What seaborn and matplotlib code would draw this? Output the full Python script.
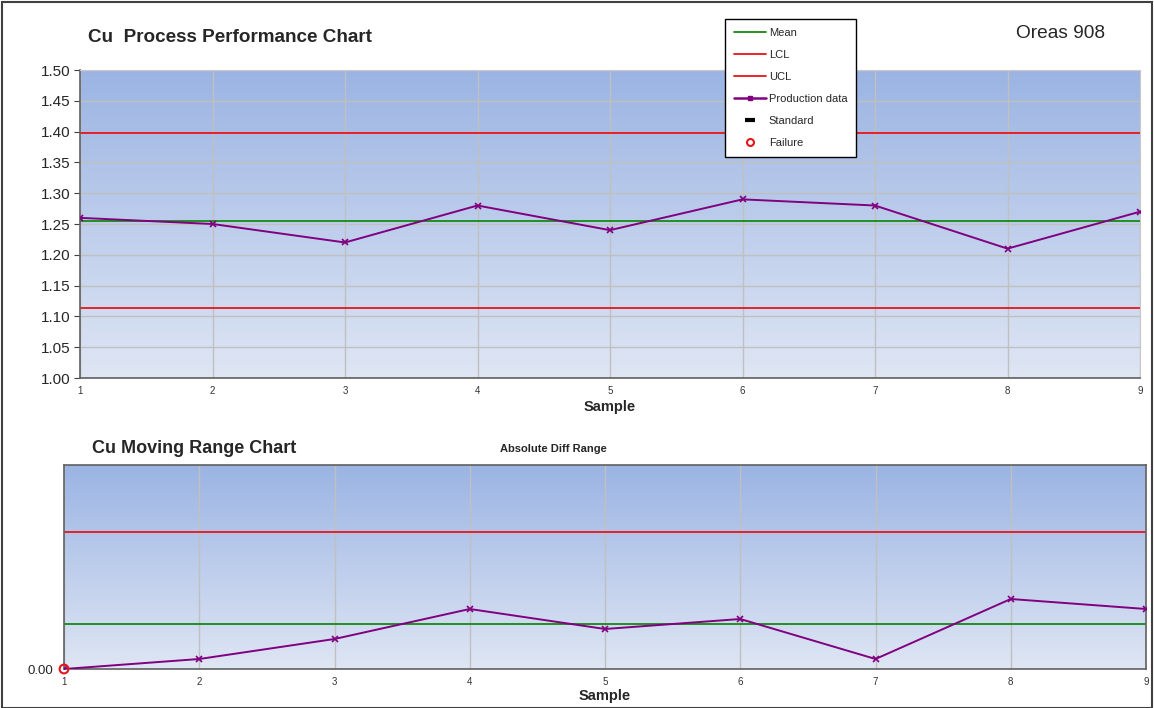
import numpy as np
import pandas as pd
import seaborn as sns
import matplotlib.pyplot as plt
from matplotlib.lines import Line2D
from matplotlib.patches import Rectangle
from matplotlib.colors import LinearSegmentedColormap

# dane
samples = [1, 2, 3, 4, 5, 6, 7, 8, 9]
production = [1.26, 1.25, 1.22, 1.28, 1.24, 1.29, 1.28, 1.21, 1.27]
mean_val = 1.2556
lcl_val = 1.1136
ucl_val = 1.3977
yticks_top = [1.00, 1.05, 1.10, 1.15, 1.20, 1.25, 1.30, 1.35, 1.40, 1.45, 1.50]

moving_range = [0.00, 0.01, 0.03, 0.06, 0.04, 0.05, 0.01, 0.07, 0.06]
mr_mean = 0.045
mr_ucl = 0.137
failure_x = [1]
failure_y = [0.00]

df_top = pd.DataFrame({"Sample": samples, "Value": production})
df_mr = pd.DataFrame({"Sample": samples, "Range": moving_range})

sns.set_style("white")
plt.rcParams['font.family'] = ['Liberation Sans', 'DejaVu Sans']

W, H = 1154, 708
fig = plt.figure(figsize=(W / 100, H / 100), dpi=100)

def px_axes(left, top, right, bottom):
    return fig.add_axes([left / W, 1 - bottom / H, (right - left) / W, (bottom - top) / H])

def gradient(ax):
    # ciemniejszy niebieski u góry, jasny u dołu
    grad = np.linspace(0, 1, 256).reshape(-1, 1)
    cmap = LinearSegmentedColormap.from_list("bg", ["#9bb4e3", "#dfe6f4"])
    ax.imshow(grad, aspect="auto", cmap=cmap, extent=[0, 1, 0, 1], origin="upper",
              transform=ax.transAxes, zorder=0, interpolation="bicubic")

purple = "#800080"
green = "#138a13"
red = "#e8141b"

# --- wykres górny ---
ax1 = px_axes(80, 70, 1140, 378)
gradient(ax1)
for x in samples:
    ax1.axvline(x, color="#c0c0c0", lw=1, zorder=1)
for y in yticks_top:
    ax1.axhline(y, color="#c0c0c0", lw=1, zorder=1)
ax1.axhline(mean_val, color=green, lw=1.3, zorder=2)
ax1.axhline(lcl_val, color=red, lw=1.3, zorder=2)
ax1.axhline(ucl_val, color=red, lw=1.3, zorder=2)
sns.lineplot(data=df_top, x="Sample", y="Value", ax=ax1, color=purple, lw=1.4,
             marker="x", markersize=4, markeredgewidth=1.2, markeredgecolor=purple, zorder=3)
ax1.set_xlim(1, 9)
ax1.set_ylim(1.0, 1.5)
ax1.set_yticks(yticks_top)
ax1.set_yticklabels([f"{v:.2f}" for v in yticks_top], fontsize=11)
ax1.set_xticks(samples)
ax1.set_xticklabels([str(s) for s in samples], fontsize=7, color="#333333")
ax1.set_xticks(np.arange(1, 9.01, 0.2), minor=True)
ax1.set_xlabel("Sample", fontsize=10.5, fontweight="bold", labelpad=3)
ax1.set_ylabel("")
ax1.tick_params(axis="x", which="major", length=4, pad=2, color="#404040")
ax1.tick_params(axis="x", which="minor", length=2, color="#404040")
ax1.tick_params(axis="y", length=4, pad=3, left=True, color="#404040")
for s in ["left", "bottom"]:
    ax1.spines[s].set_color("#606060")
    ax1.spines[s].set_linewidth(1.2)
for s in ["top", "right"]:
    ax1.spines[s].set_color("#c8c8c8")

# --- wykres dolny ---
ax2 = px_axes(64, 465, 1146, 669)
gradient(ax2)
for x in samples:
    ax2.axvline(x, color="#c0c0c0", lw=1, zorder=1)
ax2.axhline(mr_mean, color=green, lw=1.3, zorder=2)
ax2.axhline(mr_ucl, color=red, lw=1.3, zorder=2)
sns.lineplot(data=df_mr, x="Sample", y="Range", ax=ax2, color=purple, lw=1.4,
             marker="x", markersize=4, markeredgewidth=1.2, markeredgecolor=purple, zorder=3)
ax2.scatter(failure_x, failure_y, s=40, facecolors="none", edgecolors=red, linewidths=1.5,
            zorder=4, clip_on=False)
ax2.set_xlim(1, 9)
ax2.set_ylim(0, 0.204)
ax2.set_yticks([0.0])
ax2.set_yticklabels(["0.00"], fontsize=9.5)
ax2.set_xticks(samples)
ax2.set_xticklabels([str(s) for s in samples], fontsize=7, color="#333333")
ax2.set_xticks(np.arange(1, 9.01, 0.2), minor=True)
ax2.set_xlabel("Sample", fontsize=10.5, fontweight="bold", labelpad=1)
ax2.set_ylabel("")
ax2.tick_params(axis="x", which="major", length=4, pad=2, color="#404040")
ax2.tick_params(axis="x", which="minor", length=2, color="#404040")
ax2.tick_params(axis="y", length=0, pad=8)
for s in ax2.spines.values():
    s.set_color("#606060")
    s.set_linewidth(1.2)

# --- teksty ---
fig.text(88 / W, 1 - 38 / H, "Cu  Process Performance Chart", fontsize=13.6, fontweight="bold", va="center")
fig.text(1016 / W, 1 - 34 / H, "Oreas 908", fontsize=13.8, va="center")
fig.text(92 / W, 1 - 448 / H, "Cu Moving Range Chart", fontsize=13, fontweight="bold", va="center")
fig.text(500 / W, 1 - 449 / H, "Absolute Diff Range", fontsize=8, fontweight="bold", va="center")

# --- legenda ---
handles = [
    Line2D([], [], color=green, lw=1.3),
    Line2D([], [], color=red, lw=1.3),
    Line2D([], [], color=red, lw=1.3),
    Line2D([], [], color=purple, lw=1.8, marker="s", markersize=3.5),
    Line2D([], [], color="black", lw=0, marker="_", markersize=7, markeredgewidth=3),
    Line2D([], [], color=red, lw=0, marker="o", markersize=5, markerfacecolor="none", markeredgewidth=1.5),
]
labels = ["Mean", "LCL", "UCL", "Production data", "Standard", "Failure"]
leg = fig.legend(handles, labels, loc="upper left", bbox_to_anchor=(725 / W, 1 - 19 / H),
                 fontsize=8, frameon=True, fancybox=False, framealpha=1, handlelength=2.9,
                 handletextpad=0.25, labelspacing=1.08, borderpad=0.8, borderaxespad=0)
leg.get_frame().set_edgecolor("black")
leg.get_frame().set_linewidth(1)
leg.set_zorder(10)

fig.patches.append(Rectangle((2 / W, 0), 1 - 4 / W, 1 - 2 / H, transform=fig.transFigure,
                             fill=False, edgecolor="#404040", lw=1.5))

fig.savefig("out.png", dpi=100)
